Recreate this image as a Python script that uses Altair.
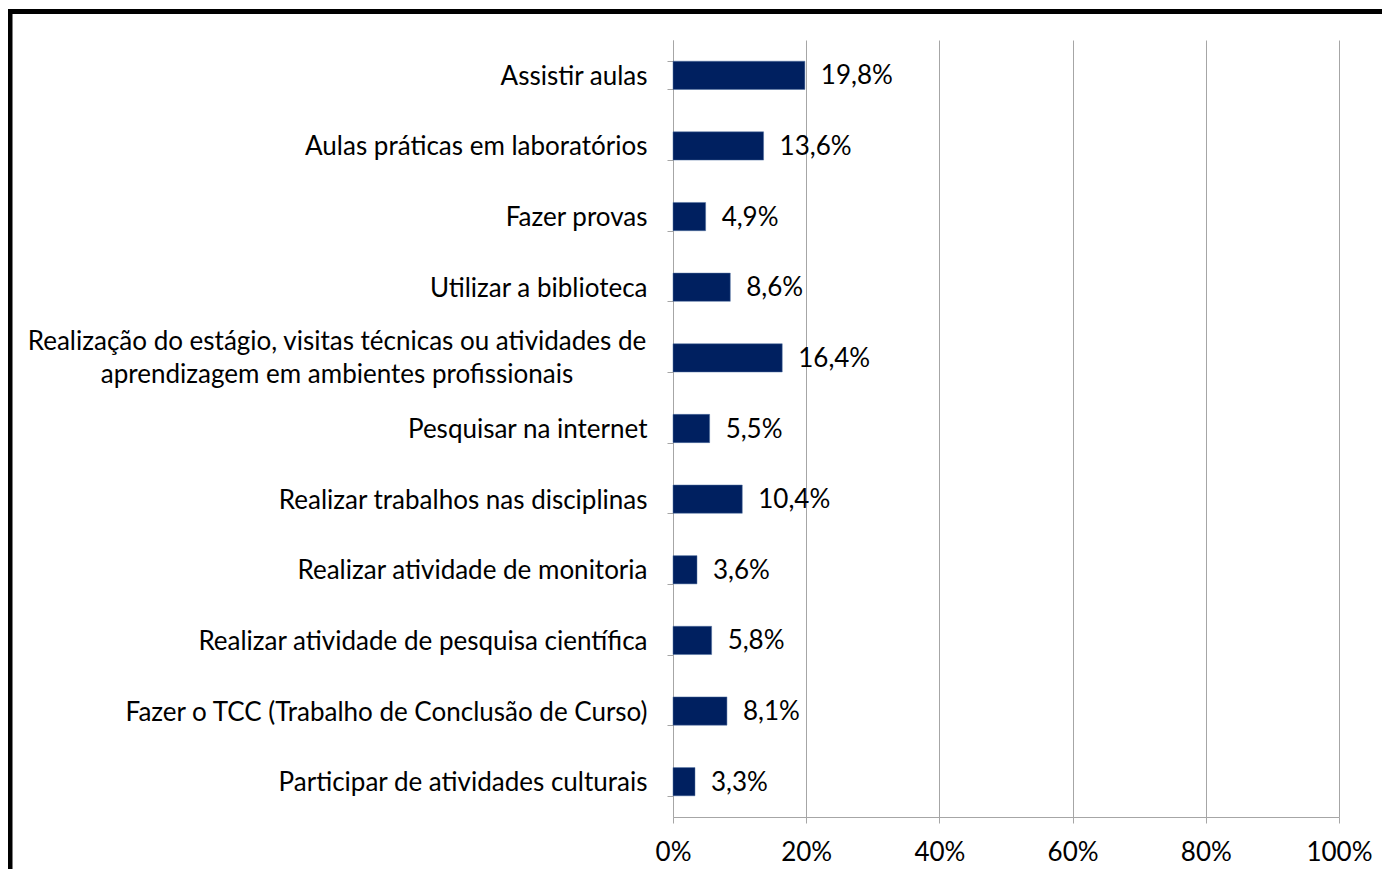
import altair as alt
import pandas as pd

categories = [
    "Assistir aulas",
    "Aulas práticas em laboratórios",
    "Fazer provas",
    "Utilizar a biblioteca",
    "Realização do estágio, visitas técnicas ou atividades de\naprendizagem em ambientes profissionais",
    "Pesquisar na internet",
    "Realizar trabalhos nas disciplinas",
    "Realizar atividade de monitoria",
    "Realizar atividade de pesquisa científica",
    "Fazer o TCC (Trabalho de Conclusão de Curso)",
    "Participar de atividades culturais",
]
values = [19.8, 13.6, 4.9, 8.6, 16.4, 5.5, 10.4, 3.6, 5.8, 8.1, 3.3]
x_ticks = [0, 20, 40, 60, 80, 100]

df = pd.DataFrame({"cat": categories, "v": values})
df["lab"] = [f"{v:.1f}".replace(".", ",") + "%" for v in values]
df["multi"] = df["cat"].str.contains("\n")

FONT = "Lato"
FS = 26
BAR = "#002060"
GRAY = "#a6a6a6"

x_enc = alt.X(
    "v:Q",
    scale=alt.Scale(domain=[0, 100], nice=False),
    axis=alt.Axis(
        values=x_ticks,
        labelExpr="datum.value + '%'",
        title=None,
        grid=True,
        gridColor=GRAY,
        gridWidth=1,
        domainColor=GRAY,
        tickColor=GRAY,
        tickSize=6,
        labelFont=FONT,
        labelFontSize=FS,
        labelColor="black",
        labelPadding=16,
        labelFlush=False,
    ),
)
y_enc = alt.Y(
    "cat:N",
    sort=categories,
    scale=alt.Scale(paddingInner=0.6, paddingOuter=0.3),
    axis=alt.Axis(
        title=None,
        labelExpr="indexof(datum.label, '\\n') >= 0 ? '' : datum.label",
        labelFont=FONT,
        labelFontSize=FS,
        labelColor="black",
        labelLimit=900,
        labelPadding=20,
        labelOffset=1,
        tickBand="extent",
        tickSize=6,
        tickColor=GRAY,
        domainColor=GRAY,
        grid=False,
    ),
)

bars = alt.Chart(df).mark_bar(color=BAR, stroke="#5070a0", strokeWidth=0.5).encode(x=x_enc, y=y_enc)
texts = alt.Chart(df).mark_text(
    align="left", baseline="middle", dx=16, dy=1, font=FONT, fontSize=FS, color="black"
).encode(x="v:Q", y=alt.Y("cat:N", sort=categories), text="lab:N")

long_label = alt.Chart(df).transform_filter("datum.multi").mark_text(
    align="center", baseline="middle", font=FONT, fontSize=FS, color="black",
    lineBreak="\n", lineHeight=33, dy=-16, clip=False,
).encode(x=alt.value(-336), y=alt.Y("cat:N", sort=categories), text="cat:N")

frame_data = alt.Data(values=[{"k": 1}])
left_border = alt.Chart(frame_data).mark_rule(color="black", strokeWidth=5, clip=False).encode(
    x=alt.value(-663), y=alt.value(-31), y2=alt.value(900)
)
top_border = alt.Chart(frame_data).mark_rule(color="black", strokeWidth=5, clip=False).encode(
    x=alt.value(-665.5), x2=alt.value(800), y=alt.value(-28.5)
)

chart = (
    alt.layer(bars, texts, long_label, left_border, top_border)
    .properties(
        width=666,
        height=777,
        background="white",
        padding={"left": 665, "top": 32, "right": 43, "bottom": 52},
        autosize=alt.AutoSizeParams(type="none"),
    )
    .configure_view(stroke="transparent", strokeWidth=0)
)

chart.save("out.html", embed_options={"renderer": "svg", "actions": False})
